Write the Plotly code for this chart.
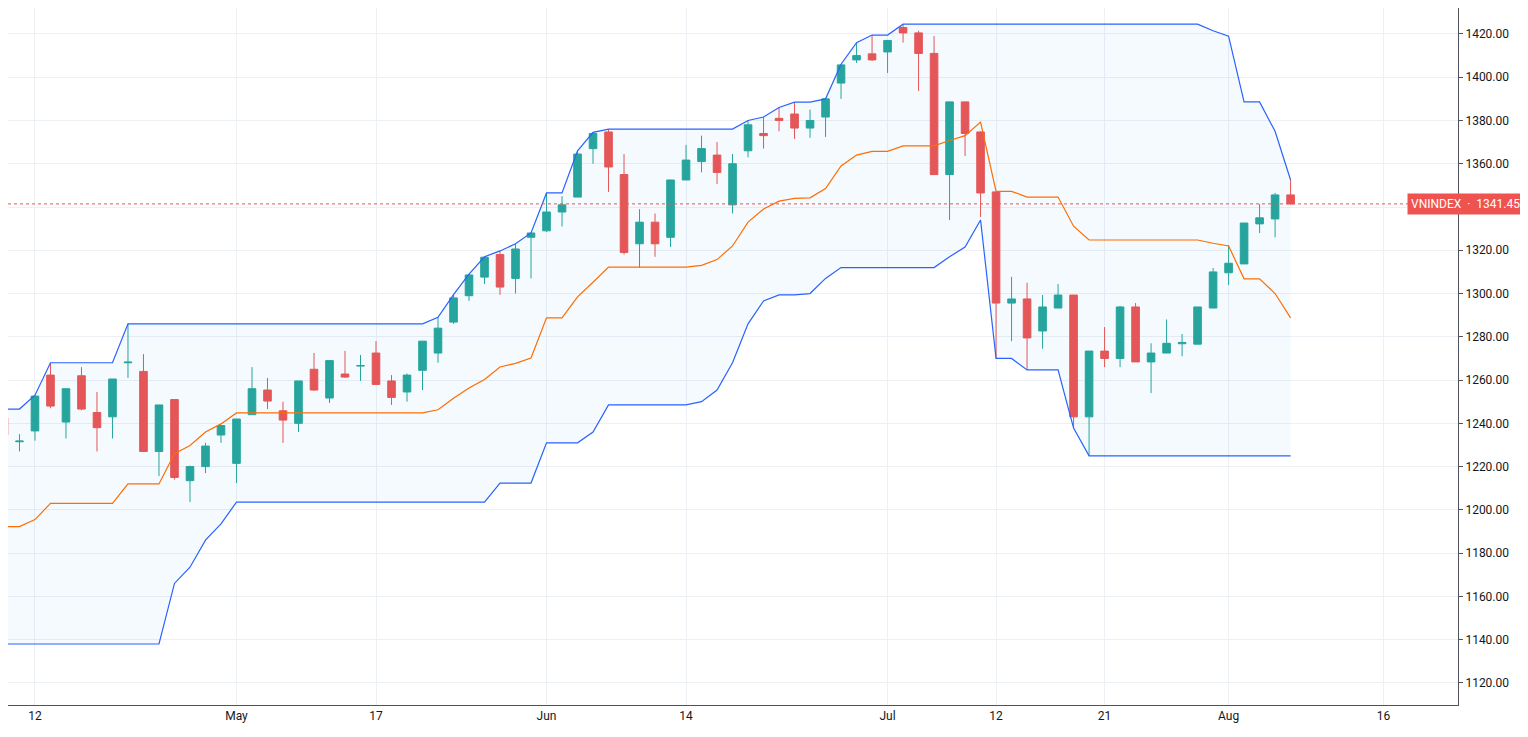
import plotly.graph_objects as go
import numpy as np

# OHLC per trading session (index 0 = Apr 8 2021 ... 83 = Aug 6 2021)
opens = [1242.5,1231.5,1236.5,1262.3,1240.6,1262,1245,1243,1268,1264,1227,1251,1213.5,1220,1234.6,1221.5,1244,1255.4,1245.8,1240,
         1265,1251.7,1262.8,1266.5,1272.5,1259.6,1254.5,1264.5,1272.5,1286.8,1299,1307.6,1318,1307,1326,1329,1337.7,1344.6,1367,1374.7,
         1355,1323,1333,1326,1352.5,1361,1364,1341,1366,1374,1381,1383,1376.5,1381.6,1397.3,1408,1410.8,1411.7,1423,1420.5,
         1411,1355,1388.6,1374.7,1347,1295.6,1297.5,1282.7,1293.3,1299.3,1243,1273.4,1270,1293.8,1268.4,1272.5,1276.8,1276.6,1293.3,1309.6,
         1313.7,1332.2,1334.5,1345.6]
closes = [1234.6,1231.8,1252.6,1248,1256,1246.6,1238,1260.5,1268.3,1227,1248.5,1215,1220,1229.5,1239,1242,1256,1250.3,1241.5,1259.6,
          1255.4,1269,1261.4,1266.7,1258,1252,1262.3,1278,1284,1298,1308.6,1316.8,1303,1320.6,1328,1337.7,1341,1364.5,1374,1358.5,
          1319,1333,1323,1352.5,1361.7,1367,1356,1360,1378,1373,1380,1376.5,1380,1390,1405.7,1410,1408,1417,1420.5,1411,
          1355,1388.6,1374,1346.5,1295.6,1297.5,1279.5,1293.8,1299.3,1243,1273.4,1270,1293.8,1268.4,1272.5,1277,1277.4,1293.8,1310,1314,
          1332.6,1335,1345.6,1341.45]
highs = [1246.6,1235,1253,1268,1256,1266,1254.5,1260.5,1286,1272,1248.5,1251,1220.5,1231,1239,1242,1266,1261,1250,1259.6,
         1272.5,1269,1273.5,1271.6,1278,1262.3,1263,1278,1289,1299.5,1309,1317,1319.7,1323,1328,1346.5,1345,1366,1374.5,1376,
         1364.5,1339,1337,1352.5,1368.7,1373,1370,1364.5,1380,1381.6,1386,1388.5,1385,1390,1406,1416,1419.5,1417,1424.5,1421.5,
         1419,1388.6,1388.6,1375,1347,1307.7,1305,1299.3,1304.4,1299.3,1273.4,1284.5,1294.3,1295.6,1277,1288,1281.3,1293.8,1311.8,1322.4,
         1332.6,1341.4,1346.5,1352.5]
lows = [1231.8,1227,1232,1247,1233,1246,1227,1233,1261,1227,1215.6,1214,1203.6,1217,1231,1212.4,1244,1246.6,1231,1236,
        1255,1249.4,1261,1259.6,1258,1248.5,1250,1255.4,1268,1286,1296.6,1304.4,1299.4,1300,1307,1328.5,1331,1344.6,1360,1347,
        1318,1312,1317,1321.5,1352.5,1356,1350.6,1337,1363,1367,1375,1371.5,1372,1372.4,1390,1406.6,1407.5,1402,1416,1393.6,
        1355,1334,1363.6,1335.4,1270,1278,1264.7,1274.5,1293.3,1237.8,1225,1266,1266,1268.4,1254,1272.5,1271,1276.6,1293.3,1304,
        1313.7,1328,1326,1341]

# Donchian channel values before the 20-session window is available
early_upper = [1246.6,1246.6,1253,1268,1268,1268,1268,1268,1286,1286,1286,1286,1286,1286,1286,1286,1286,1286,1286]
early_lower = [1138,1138,1138,1138,1138,1138,1138,1138,1138,1138,1138,1166,1173.5,1186,1193.5,1203.6,1203.6,1203.6,1203.6]

tick_idx = [2, 15, 24, 35, 44, 57, 64, 71, 79, 89]
tick_text = ["12", "May", "17", "Jun", "14", "Jul", "12", "21", "Aug", "16"]
last_price = 1341.45

n = len(opens)
idx = np.arange(n)
upper = list(early_upper) + [max(highs[i-19:i+1]) for i in range(19, n)]
lower = list(early_lower) + [min(lows[i-19:i+1]) for i in range(19, n)]
mid = [(u + l) / 2 for u, l in zip(upper, lower)]

GREEN = "#26a69a"; RED = "#ef5350"; BLUE = "#2962ff"; ORANGE = "#ff6d00"

fig = go.Figure()
fig.add_trace(go.Scatter(x=idx, y=lower, mode="lines", line=dict(color=BLUE, width=1.2), hoverinfo="skip"))
fig.add_trace(go.Scatter(x=idx, y=upper, mode="lines", line=dict(color=BLUE, width=1.2),
                         fill="tonexty", fillcolor="rgba(33,150,243,0.05)", hoverinfo="skip"))
fig.add_trace(go.Scatter(x=idx, y=mid, mode="lines", line=dict(color=ORANGE, width=1.2), hoverinfo="skip"))
fig.add_trace(go.Candlestick(x=idx, open=opens, high=highs, low=lows, close=closes,
                             increasing=dict(line=dict(color=GREEN, width=1), fillcolor=GREEN),
                             decreasing=dict(line=dict(color=RED, width=1), fillcolor=RED),
                             whiskerwidth=0))
fig.add_hline(y=last_price, line=dict(color=RED, width=1, dash="dot"))

fig.add_annotation(xref="paper", x=1, xanchor="right", xshift=66, y=last_price, yref="y",
                   text="VNINDEX  ·  1341.45", showarrow=False, bgcolor=RED,
                   font=dict(color="white", size=12, family="Roboto"), borderpad=3)

fig.update_layout(
    width=1520, height=729, margin=dict(l=0, r=70, t=0, b=32),
    paper_bgcolor="white", plot_bgcolor="white", showlegend=False,
    font=dict(family="Roboto", size=12, color="#131722"),
    xaxis=dict(range=[0.26, 93.8], tickvals=tick_idx, ticktext=tick_text,
               showgrid=True, gridcolor="#edf0f4", rangeslider=dict(visible=False),
               showline=True, linecolor="#50535e", linewidth=1, ticks="", zeroline=False),
    yaxis=dict(side="right", range=[1109.8, 1432.0], dtick=20, tickformat=".2f",
               showgrid=True, gridcolor="#edf0f4", showline=True, linecolor="#50535e",
               linewidth=1, ticks="outside", ticklen=4, tickcolor="#50535e", zeroline=False),
)
fig.write_html("out.html")
